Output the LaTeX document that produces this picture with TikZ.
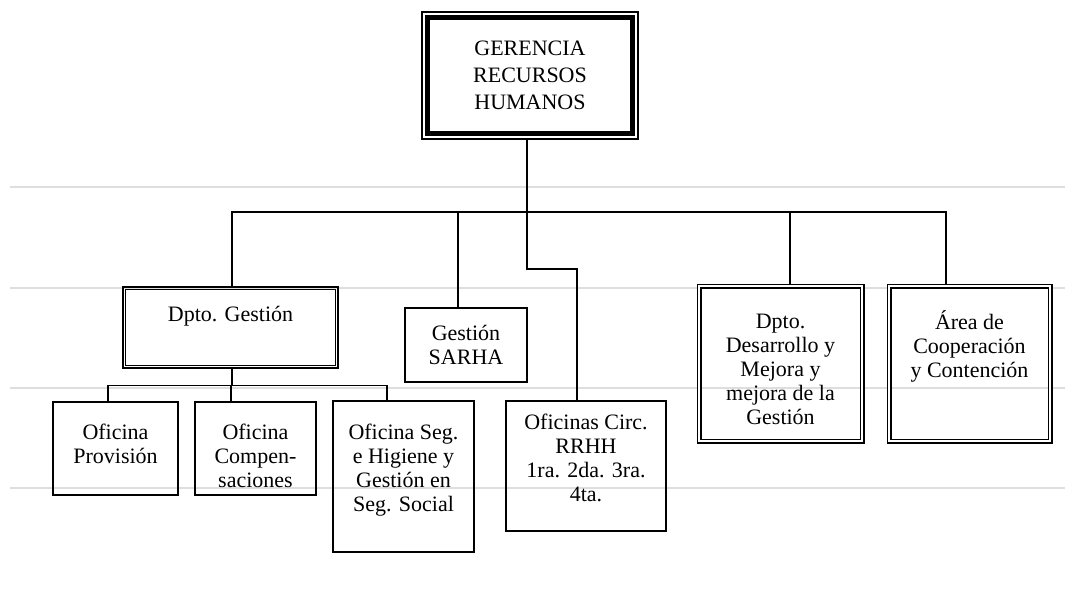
\documentclass[tikz,border=0pt]{standalone}
\usepackage{fontspec}
\setmainfont{Liberation Serif}
\usetikzlibrary{positioning}
\definecolor{sheetgray}{RGB}{222,222,222}
\tikzset{
  box/.style={draw, line width=1.4pt, align=center, inner sep=0pt,
              font=\fontsize{22}{24}\selectfont},
  dbox/.style={box, double, double distance=1.8pt, line width=1.6pt},
  txt/.style={align=center, inner sep=0pt, font=\fontsize{22}{24}\selectfont},
  wire/.style={line width=1.3pt},
  sheetline/.style={sheetgray, line width=1.5pt}
}

\begin{document}
\begin{tikzpicture}[x=1pt, y=-1pt]
  \useasboundingbox (0,0) rectangle (1065,604);

  % lines of the sheet
  \foreach \y in {187,288,388,488}
    \draw[sheetline] (10,\y) -- (1065,\y);

  % boxes
  \node[box, line width=1.5pt, minimum width=216pt, minimum height=127pt,
        font=\fontsize{22}{27}\selectfont] (ger) at (530,75.5)
        {GERENCIA\\RECURSOS\\HUMANOS};
  \draw[line width=5pt] ([shift={(6pt,-6pt)}]ger.north west)
        rectangle ([shift={(-6pt,6pt)}]ger.south east);

  \node[box, line width=2.4pt, minimum width=215pt, minimum height=81pt] (gest) at (230.5,327.5) {};
  \draw[line width=1.2pt] ([shift={(4pt,-4pt)}]gest.north west)
        rectangle ([shift={(-4pt,4pt)}]gest.south east);
  \node[box, minimum width=122pt, minimum height=74pt] (sarha) at (466,345)   {Gestión\\SARHA};
  \node[box, minimum width=160pt, minimum height=130pt] (circ) at (586,466)  {};
  \node[dbox, minimum width=163pt, minimum height=155pt] (desa) at (780.5,363.5) {};
  \node[dbox, minimum width=161pt, minimum height=155pt] (area) at (969.5,363.5) {};
  \node[box, minimum width=125pt, minimum height=93pt]  (prov) at (115.5,448.5) {};
  \node[box, minimum width=121pt, minimum height=93pt]  (comp) at (255.5,448.5) {};
  \node[box, minimum width=141pt, minimum height=151pt] (seg)  at (403.5,476.5) {};

  % texts
  \node[txt, below=20pt of gest.north] (gestt) {Dpto. Gestión};
  \node[txt, below=14pt of circ.north] (circt) {Oficinas Circ.\\RRHH\\1ra. 2da. 3ra.\\4ta.};
  \node[txt, below=29pt of desa.north] (desat) {Dpto.\\Desarrollo y\\Mejora y\\mejora de la\\Gestión};
  \node[txt, below=25pt of area.north] (areat) {Área de\\Cooperación\\y Contención};
  \node[txt, below=23pt of prov.north] (provt) {Oficina\\Provisión};
  \node[txt, below=23pt of comp.north] (compt) {Oficina\\Compen-\\saciones};
  \node[txt, below=24pt of seg.north]  (segt)  {Oficina Seg.\\e Higiene y\\Gestión en\\Seg. Social};

  % connectors
  \coordinate (bus) at (527,212);
  \draw[wire] (ger.south -| bus) -- (bus);
  \draw[wire] ([xshift=1.5pt]gest.north) |- (bus) -| ([xshift=-23.5pt]area.north);
  \draw[wire] ([xshift=-8pt]sarha.north) |- (bus);
  \draw[wire] ([xshift=9.5pt]desa.north) |- (bus);
  \draw[wire] (bus) -- ++(0,57) -| ([xshift=-9pt]circ.north);

  \draw[wire] ([xshift=1.5pt]gest.south) -- ++(0,16) coordinate (sub);
  \draw[wire] ([xshift=-7.5pt]prov.north) |- (sub) -| ([xshift=-16.5pt]seg.north);
  \draw[wire] ([xshift=-24.5pt]comp.north) |- (sub);
\end{tikzpicture}
\end{document}
